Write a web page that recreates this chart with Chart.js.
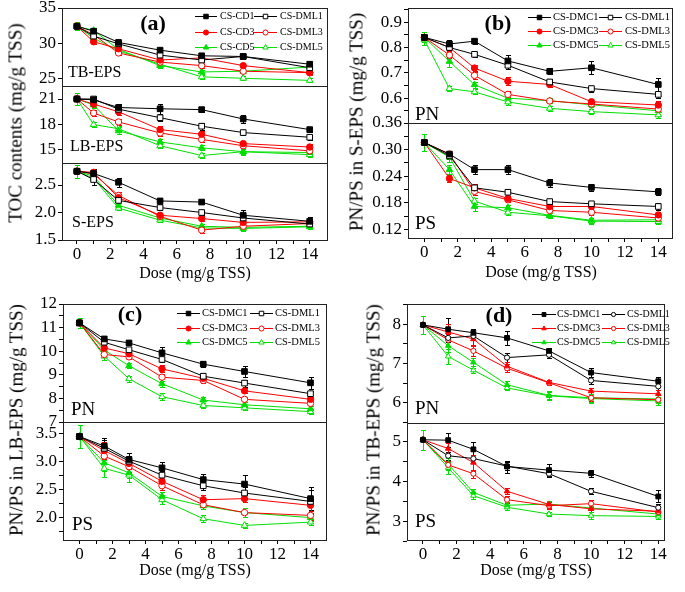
<!DOCTYPE html>
<html><head><meta charset="utf-8">
<script src="https://cdn.jsdelivr.net/npm/chart.js@4.4.0/dist/chart.umd.min.js"></script>
<style>
html,body{margin:0;padding:0;background:#fff;}
#root{position:relative;width:685px;height:592px;overflow:hidden;font-family:"Liberation Serif","Times New Roman",serif;}
.t{position:absolute;white-space:nowrap;color:#000;line-height:1;}
</style></head><body><div id="root"></div>
<script>
// ---------------- DATA ----------------
const a_dose = [0, 1, 2.5, 5, 7.5, 10, 14];
const bcd_dose = [0, 1.5, 3, 5, 7.5, 10, 14];
const x_ticks = [0, 2, 4, 6, 8, 10, 12, 14];
const x_tick_labels = ['0','2','4','6','8','10','12','14'];
const x_minor = [1, 3, 5, 7, 9, 11, 13];

const a_labels = ['CS-CD1','CS-DML1','CS-CD3','CS-DML3','CS-CD5','CS-DML5'];
const bcd_labels = ['CS-DMC1','CS-DML1','CS-DMC3','CS-DML3','CS-DMC5','CS-DML5'];

// (a) TB-EPS
const a_tb_cd1  = [32.4, 31.7, 30.1, 29.0, 28.2, 28.1, 27.0];
const a_tb_dml1 = [32.4, 31.0, 29.9, 28.3, 27.6, 28.1, 26.5];
const a_tb_cd3  = [32.4, 30.2, 29.2, 27.6, 27.9, 26.8, 25.8];
const a_tb_dml3 = [32.4, 31.2, 28.6, 27.3, 26.8, 26.0, 25.8];
const a_tb_cd5  = [32.4, 31.8, 29.1, 26.8, 25.9, 26.0, 26.6];
const a_tb_dml5 = [32.4, 30.7, 28.9, 27.0, 25.2, 25.0, 24.7];
const a_tb_cd1_err  = [0.6, 0.4, 0.3, 0.3, 0.3, 0.3, 0.3];
const a_tb_dml1_err = [0.6, 0.3, 0.3, 0.3, 0.3, 0.3, 0.3];
const a_tb_cd3_err  = [0.6, 0.3, 0.3, 0.3, 0.3, 0.3, 0.3];
const a_tb_dml3_err = [0.6, 0.3, 0.3, 0.3, 0.3, 0.3, 0.3];
const a_tb_cd5_err  = [0.6, 0.3, 0.3, 0.3, 0.3, 0.3, 0.3];
const a_tb_dml5_err = [0.6, 0.3, 0.3, 0.3, 0.3, 0.3, 0.3];
const a_tb_ticks = [25, 30, 35], a_tb_tick_labels = ['25','30','35'];
// (a) LB-EPS
const a_lb_cd1  = [21.0, 20.9, 20.0, 19.85, 19.75, 18.65, 17.4];
const a_lb_dml1 = [21.0, 21.0, 19.8, 18.8, 17.8, 17.05, 16.5];
const a_lb_cd3  = [21.0, 20.4, 19.5, 17.4, 16.85, 15.75, 15.35];
const a_lb_dml3 = [21.0, 19.35, 18.3, 17.0, 16.25, 15.5, 14.9];
const a_lb_cd5  = [21.0, 20.3, 17.25, 15.95, 15.25, 14.8, 14.7];
const a_lb_dml5 = [21.0, 18.0, 17.5, 15.5, 14.35, 14.8, 14.45];
const a_lb_cd1_err  = [0.7, 0.3, 0.4, 0.6, 0.3, 0.5, 0.3];
const a_lb_dml1_err = [0.7, 0.3, 0.3, 0.4, 0.4, 0.3, 0.3];
const a_lb_cd3_err  = [0.7, 0.3, 0.4, 0.4, 0.4, 0.3, 0.3];
const a_lb_dml3_err = [0.7, 0.3, 0.3, 0.3, 0.3, 0.3, 0.3];
const a_lb_cd5_err  = [0.7, 0.3, 0.4, 0.3, 0.3, 0.3, 0.3];
const a_lb_dml5_err = [0.7, 0.3, 0.3, 0.3, 0.3, 0.4, 0.3];
const a_lb_ticks = [15, 18, 21], a_lb_tick_labels = ['15','18','21'];
// (a) S-EPS
const a_s_cd1  = [2.75, 2.71, 2.55, 2.21, 2.19, 1.95, 1.84];
const a_s_dml1 = [2.75, 2.60, 2.22, 2.09, 2.00, 1.90, 1.79];
const a_s_cd3  = [2.75, 2.73, 2.27, 1.95, 1.89, 1.82, 1.83];
const a_s_dml3 = [2.75, 2.70, 2.31, 1.93, 1.68, 1.75, 1.80];
const a_s_cd5  = [2.75, 2.66, 2.13, 1.90, 1.75, 1.73, 1.75];
const a_s_dml5 = [2.75, 2.62, 2.08, 1.86, 1.72, 1.71, 1.74];
const a_s_cd1_err  = [0.12, 0.08, 0.08, 0.05, 0.04, 0.10, 0.07];
const a_s_dml1_err = [0.12, 0.10, 0.05, 0.04, 0.04, 0.04, 0.04];
const a_s_cd3_err  = [0.12, 0.05, 0.06, 0.04, 0.05, 0.04, 0.04];
const a_s_dml3_err = [0.12, 0.05, 0.06, 0.04, 0.05, 0.04, 0.04];
const a_s_cd5_err  = [0.12, 0.05, 0.04, 0.04, 0.05, 0.04, 0.04];
const a_s_dml5_err = [0.12, 0.05, 0.04, 0.04, 0.04, 0.04, 0.04];
const a_s_ticks = [1.5, 2.0, 2.5], a_s_tick_labels = ['1.5','2.0','2.5'];

// (b) PN in S-EPS
const b_pn_dmc1 = [0.84, 0.814, 0.825, 0.747, 0.706, 0.72, 0.654];
const b_pn_dml1 = [0.84, 0.80, 0.773, 0.73, 0.664, 0.638, 0.615];
const b_pn_dmc3 = [0.84, 0.80, 0.719, 0.667, 0.654, 0.586, 0.573];
const b_pn_dml3 = [0.84, 0.77, 0.69, 0.615, 0.589, 0.577, 0.557];
const b_pn_dmc5 = [0.84, 0.745, 0.653, 0.60, 0.59, 0.574, 0.55];
const b_pn_dml5 = [0.83, 0.638, 0.625, 0.585, 0.56, 0.547, 0.534];
const b_pn_dmc1_err = [0.02, 0.015, 0.01, 0.025, 0.012, 0.025, 0.025];
const b_pn_dml1_err = [0.02, 0.01, 0.01, 0.015, 0.01, 0.012, 0.015];
const b_pn_dmc3_err = [0.02, 0.015, 0.012, 0.015, 0.01, 0.01, 0.015];
const b_pn_dml3_err = [0.02, 0.01, 0.015, 0.012, 0.01, 0.01, 0.01];
const b_pn_dmc5_err = [0.02, 0.02, 0.012, 0.01, 0.01, 0.01, 0.012];
const b_pn_dml5_err = [0.02, 0.01, 0.01, 0.01, 0.01, 0.01, 0.012];
const b_pn_ticks = [0.6, 0.7, 0.8, 0.9], b_pn_tick_labels = ['0.6','0.7','0.8','0.9'];
const b_pn_minor = [0.55, 0.65, 0.75, 0.85, 0.95];
// (b) PS in S-EPS
const b_ps_dmc1 = [0.316, 0.29, 0.255, 0.255, 0.225, 0.215, 0.205];
const b_ps_dml1 = [0.316, 0.286, 0.214, 0.204, 0.183, 0.178, 0.172];
const b_ps_dmc3 = [0.316, 0.235, 0.214, 0.19, 0.172, 0.172, 0.153];
const b_ps_dml3 = [0.316, 0.29, 0.206, 0.187, 0.163, 0.159, 0.146];
const b_ps_dmc5 = [0.316, 0.255, 0.172, 0.169, 0.152, 0.141, 0.142];
const b_ps_dml5 = [0.316, 0.283, 0.184, 0.159, 0.151, 0.139, 0.138];
const b_ps_dmc1_err = [0.02, 0.008, 0.01, 0.01, 0.01, 0.008, 0.008];
const b_ps_dml1_err = [0.02, 0.008, 0.008, 0.008, 0.006, 0.006, 0.008];
const b_ps_dmc3_err = [0.02, 0.008, 0.008, 0.006, 0.006, 0.006, 0.006];
const b_ps_dml3_err = [0.02, 0.008, 0.008, 0.006, 0.006, 0.006, 0.006];
const b_ps_dmc5_err = [0.02, 0.01, 0.01, 0.006, 0.006, 0.006, 0.006];
const b_ps_dml5_err = [0.02, 0.01, 0.006, 0.006, 0.006, 0.006, 0.006];
const b_ps_ticks = [0.12, 0.18, 0.24, 0.30, 0.36], b_ps_tick_labels = ['0.12','0.18','0.24','0.30','0.36'];
const b_ps_minor = [0.15, 0.21, 0.27, 0.33];

// (c) PN in LB-EPS
const c_pn_dmc1 = [11.2, 10.52, 10.35, 9.93, 9.45, 9.14, 8.66];
const c_pn_dml1 = [11.2, 10.38, 10.06, 9.65, 8.94, 8.65, 8.2];
const c_pn_dmc3 = [11.2, 10.14, 9.89, 9.25, 8.85, 8.32, 7.96];
const c_pn_dml3 = [11.2, 9.86, 9.76, 8.9, 8.76, 7.96, 7.79];
const c_pn_dmc5 = [11.2, 10.05, 9.38, 8.62, 7.93, 7.73, 7.56];
const c_pn_dml5 = [11.2, 9.79, 8.83, 8.07, 7.7, 7.6, 7.44];
const c_pn_dmc1_err = [0.2, 0.1, 0.1, 0.25, 0.12, 0.25, 0.25];
const c_pn_dml1_err = [0.2, 0.1, 0.1, 0.1, 0.15, 0.15, 0.12];
const c_pn_dmc3_err = [0.2, 0.1, 0.12, 0.15, 0.12, 0.1, 0.12];
const c_pn_dml3_err = [0.2, 0.12, 0.1, 0.15, 0.1, 0.1, 0.1];
const c_pn_dmc5_err = [0.2, 0.15, 0.1, 0.12, 0.12, 0.1, 0.12];
const c_pn_dml5_err = [0.2, 0.15, 0.12, 0.15, 0.1, 0.08, 0.1];
const c_pn_ticks = [7, 8, 9, 10, 11, 12], c_pn_tick_labels = ['7','8','9','10','11','12'];
const c_pn_minor = [7.5, 8.5, 9.5, 10.5, 11.5];
// (c) PS in LB-EPS
const c_ps_dmc1 = [3.45, 3.28, 3.04, 2.89, 2.68, 2.60, 2.34];
const c_ps_dml1 = [3.45, 3.24, 3.01, 2.76, 2.57, 2.44, 2.29];
const c_ps_dmc3 = [3.45, 3.20, 2.97, 2.65, 2.32, 2.34, 2.22];
const c_ps_dml3 = [3.45, 3.10, 2.91, 2.57, 2.23, 2.09, 2.04];
const c_ps_dmc5 = [3.45, 2.98, 2.80, 2.38, 2.21, 2.09, 2.00];
const c_ps_dml5 = [3.45, 2.88, 2.76, 2.32, 1.98, 1.86, 1.92];
const c_ps_dmc1_err = [0.2, 0.15, 0.12, 0.1, 0.1, 0.17, 0.2];
const c_ps_dml1_err = [0.2, 0.15, 0.1, 0.08, 0.08, 0.1, 0.2];
const c_ps_dmc3_err = [0.2, 0.15, 0.1, 0.08, 0.08, 0.06, 0.1];
const c_ps_dml3_err = [0.2, 0.12, 0.1, 0.08, 0.08, 0.08, 0.08];
const c_ps_dmc5_err = [0.2, 0.15, 0.1, 0.08, 0.05, 0.08, 0.06];
const c_ps_dml5_err = [0.2, 0.15, 0.12, 0.08, 0.06, 0.04, 0.05];
const c_ps_ticks = [2.0, 2.5, 3.0, 3.5], c_ps_tick_labels = ['2.0','2.5','3.0','3.5'];
const c_ps_minor = [1.75, 2.25, 2.75, 3.25];

// (d) PN in TB-EPS
const d_pn_dmc1 = [7.98, 7.87, 7.78, 7.65, 7.32, 6.77, 6.55];
const d_pn_dml1 = [7.98, 7.65, 7.70, 7.15, 7.22, 6.57, 6.42];
const d_pn_dmc3 = [7.98, 7.80, 7.62, 6.93, 6.52, 6.30, 6.23];
const d_pn_dml3 = [7.98, 7.60, 7.32, 6.88, 6.51, 6.13, 6.08];
const d_pn_dmc5 = [7.98, 7.45, 7.03, 6.46, 6.19, 6.13, 6.10];
const d_pn_dml5 = [7.98, 7.18, 6.83, 6.38, 6.18, 6.11, 6.05];
const d_pn_dmc1_err = [0.22, 0.28, 0.1, 0.18, 0.08, 0.12, 0.12];
const d_pn_dml1_err = [0.22, 0.1, 0.1, 0.12, 0.08, 0.1, 0.1];
const d_pn_dmc3_err = [0.22, 0.2, 0.15, 0.1, 0.06, 0.08, 0.1];
const d_pn_dml3_err = [0.22, 0.15, 0.12, 0.1, 0.06, 0.08, 0.08];
const d_pn_dmc5_err = [0.22, 0.15, 0.1, 0.1, 0.1, 0.1, 0.1];
const d_pn_dml5_err = [0.22, 0.18, 0.06, 0.06, 0.1, 0.1, 0.1];
const d_pn_ticks = [6, 7, 8], d_pn_tick_labels = ['6','7','8'];
const d_pn_minor = [5.5, 6.5, 7.5, 8.5];
// (d) PS in TB-EPS
const d_ps_dmc1 = [5.05, 5.04, 4.81, 4.38, 4.29, 4.21, 3.63];
const d_ps_dml1 = [5.05, 4.65, 4.58, 4.39, 4.20, 3.76, 3.35];
const d_ps_dmc3 = [5.05, 4.83, 4.48, 3.76, 3.43, 3.32, 3.26];
const d_ps_dml3 = [5.05, 4.42, 4.20, 3.55, 3.40, 3.45, 3.24];
const d_ps_dmc5 = [5.05, 4.44, 3.73, 3.41, 3.44, 3.34, 3.19];
const d_ps_dml5 = [5.05, 4.35, 3.65, 3.36, 3.19, 3.15, 3.13];
const d_ps_dmc1_err = [0.25, 0.18, 0.18, 0.15, 0.15, 0.08, 0.15];
const d_ps_dml1_err = [0.25, 0.1, 0.1, 0.1, 0.08, 0.08, 0.1];
const d_ps_dmc3_err = [0.25, 0.15, 0.2, 0.08, 0.08, 0.08, 0.08];
const d_ps_dml3_err = [0.25, 0.1, 0.1, 0.08, 0.08, 0.08, 0.08];
const d_ps_dmc5_err = [0.25, 0.15, 0.08, 0.08, 0.08, 0.06, 0.06];
const d_ps_dml5_err = [0.25, 0.15, 0.08, 0.06, 0.06, 0.08, 0.06];
const d_ps_ticks = [3, 4, 5], d_ps_tick_labels = ['3','4','5'];
const d_ps_minor = [2.5, 3.5, 4.5];

// ---------------- STYLE / HELPERS ----------------
const FONT = '"Liberation Serif", "Times New Roman", serif';
const TICK = 17;
const BLACK = '#000000', RED = '#ff0000', GREEN = '#00e000';
const root = document.getElementById('root');

function text(str, x, y, size, o = {}) {
  const d = document.createElement('div');
  d.className = 't'; d.textContent = str;
  d.style.fontSize = size + 'px';
  if (o.bold) d.style.fontWeight = 'bold';
  d.style.left = x + 'px'; d.style.top = y + 'px';
  let tr = o.anchor === 'left' ? 'translate(0,-50%)' : 'translate(-50%,-50%)';
  if (o.rot) tr += ' rotate(-90deg)';
  d.style.transform = tr;
  root.appendChild(d);
}

const stylesABC = [
  {color: BLACK, ps: 'rect', fill: true, r: 4},
  {color: BLACK, ps: 'rect', fill: false, r: 4},
  {color: RED, ps: 'circle', fill: true, r: 3.2},
  {color: RED, ps: 'circle', fill: false, r: 3.2},
  {color: GREEN, ps: 'triangle', fill: true, r: 3.8},
  {color: GREEN, ps: 'triangle', fill: false, r: 3.8},
];
const stylesD = [
  {color: BLACK, ps: 'rect', fill: true, r: 3.4},
  {color: BLACK, ps: 'circle', fill: false, r: 2.6},
  {color: RED, ps: 'triangle', fill: true, r: 3.2},
  {color: RED, ps: 'circle', fill: false, r: 2.6},
  {color: GREEN, ps: 'triangle', fill: true, r: 3.2},
  {color: GREEN, ps: 'triangle', fill: false, r: 3.2},
];

function series(label, xs, ys, errs, st) {
  return {
    label, errors: errs, st,
    data: xs.map((x, i) => ({x, y: ys[i]})),
    borderColor: st.color, backgroundColor: st.fill ? st.color : '#ffffff',
    pointBackgroundColor: st.fill ? st.color : '#ffffff', pointBorderColor: st.color,
    pointStyle: st.ps, pointRadius: st.r, pointBorderWidth: 1,
    borderWidth: 1, tension: 0, clip: false, fill: false
  };
}

function mkTicks(major, labels, minor) {
  return [...major.map((v, i) => ({value: v, label: labels[i]})),
          ...(minor || []).map(v => ({value: v, label: ''}))].sort((a, b) => a.value - b.value);
}

function drawMarker(ctx, st, x, y, r) {
  ctx.fillStyle = st.fill ? st.color : '#ffffff';
  ctx.strokeStyle = st.color; ctx.lineWidth = 1;
  if (Chart.helpers && Chart.helpers.drawPoint) {
    Chart.helpers.drawPoint(ctx, {pointStyle: st.ps, radius: r, borderWidth: 1, rotation: 0}, x, y);
    return;
  }
  ctx.beginPath();
  if (st.ps === 'circle') ctx.arc(x, y, r, 0, Math.PI * 2);
  else if (st.ps === 'rect') { const s = r * Math.SQRT1_2; ctx.rect(x - s, y - s, 2 * s, 2 * s); }
  else { ctx.moveTo(x, y - r); ctx.lineTo(x + r * 0.866, y + r * 0.5); ctx.lineTo(x - r * 0.866, y + r * 0.5); ctx.closePath(); }
  ctx.fill(); ctx.stroke();
}

// error bars (under points), plot frame and custom legend (on top)
const decor = {
  id: 'decor',
  beforeDatasetsDraw(chart) {
    const ctx = chart.ctx, xs = chart.scales.x, ys = chart.scales.y;
    chart.data.datasets.forEach(ds => {
      if (!ds.errors) return;
      ctx.save(); ctx.strokeStyle = ds.borderColor; ctx.lineWidth = 1;
      ds.data.forEach((p, i) => {
        const e = ds.errors[i]; if (!e) return;
        const x = Math.round(xs.getPixelForValue(p.x)) + 0.5;
        const y1 = Math.round(ys.getPixelForValue(p.y + e)) + 0.5;
        const y2 = Math.round(ys.getPixelForValue(p.y - e)) + 0.5;
        ctx.beginPath();
        ctx.moveTo(x, y1); ctx.lineTo(x, y2);
        ctx.moveTo(x - 2.5, y1); ctx.lineTo(x + 2.5, y1);
        ctx.moveTo(x - 2.5, y2); ctx.lineTo(x + 2.5, y2);
        ctx.stroke();
      });
      ctx.restore();
    });
  },
  afterDraw(chart) {
    const a = chart.chartArea, ctx = chart.ctx;
    ctx.save();
    ctx.strokeStyle = '#222'; ctx.lineWidth = 1;
    ctx.strokeRect(Math.round(a.left) + 0.5, Math.round(a.top) + 0.5,
                   Math.round(a.right - a.left) - 1, Math.round(a.bottom - a.top));
    const o = chart.$legendCfg;
    if (o) {
      ctx.font = o.size + 'px ' + FONT;
      ctx.textBaseline = 'middle'; ctx.textAlign = 'left';
      o.items.forEach((it, k) => {
        const row = Math.floor(k / 2), col = k % 2;
        const y = Math.round(o.rows[row] - o.oy) + 0.5;
        const c = o.cols[col];
        const x1 = c[0] - o.ox, x2 = c[1] - o.ox, tx = c[2] - o.ox;
        ctx.strokeStyle = it.st.color; ctx.lineWidth = 1;
        ctx.beginPath(); ctx.moveTo(x1, y); ctx.lineTo(x2, y); ctx.stroke();
        drawMarker(ctx, it.st, (x1 + x2) / 2, y, it.st.r * 0.8);
        ctx.fillStyle = '#000';
        ctx.fillText(it.label, tx, y);
      });
    }
    ctx.restore();
  }
};

const PADT = 12, PADR = 8, YW = 50, XH = 34;
function makeSub(cfg) {
  const {L, T, R, B, bottom, xmin, xmax, ymin, ymax, yt, ytl, ymi, datasets, legend} = cfg;
  const w = (R - L) + YW + PADR;
  const h = (B - T) + PADT + (bottom ? XH : 6);
  const left = L - YW, top = T - PADT;
  const c = document.createElement('canvas');
  c.width = w; c.height = h;
  Object.assign(c.style, {position: 'absolute', left: left + 'px', top: top + 'px', width: w + 'px', height: h + 'px'});
  root.appendChild(c);
  if (legend) { legend.ox = left; legend.oy = top; }
  const tickFont = {family: FONT, size: TICK};
  const noPad = s => { s.paddingTop = 0; s.paddingBottom = 0; s.paddingLeft = 0; s.paddingRight = 0; };
  const ch = new Chart(c, {
    type: 'line',
    data: {datasets},
    options: {
      responsive: false, maintainAspectRatio: false, animation: false, devicePixelRatio: 1,
      layout: {padding: {left: 0, right: PADR, top: PADT, bottom: bottom ? 0 : 6}},
      plugins: {legend: {display: false}, tooltip: {enabled: false}},
      scales: {
        x: {
          type: 'linear', min: xmin, max: xmax, display: !!bottom,
          grid: {display: true, drawOnChartArea: false, drawTicks: true, tickLength: 4, color: '#000', tickColor: '#000'},
          border: {display: false},
          ticks: {font: tickFont, color: '#000', padding: 0, autoSkip: false, maxRotation: 0,
                  callback: (v, i, t) => t[i].label},
          afterBuildTicks: s => { s.ticks = mkTicks(x_ticks, x_tick_labels, x_minor); },
          afterFit: s => { s.height = bottom ? XH : 0; noPad(s); }
        },
        y: {
          type: 'linear', min: ymin, max: ymax,
          grid: {display: true, drawOnChartArea: false, drawTicks: true, tickLength: 4, color: '#000', tickColor: '#000'},
          border: {display: false},
          ticks: {font: tickFont, color: '#000', padding: 2, autoSkip: false,
                  callback: (v, i, t) => t[i].label},
          afterBuildTicks: s => { s.ticks = mkTicks(yt, ytl, ymi); },
          afterFit: s => { s.width = YW; noPad(s); }
        }
      }
    },
    plugins: [{
      id: 'legendCfg',
      beforeInit(chart) { chart.$legendCfg = legend || null; }
    }, decor]
  });
  return ch;
}

function sets(labels, styles, xs, arrs, errs) {
  return arrs.map((a, i) => series(labels[i], xs, a, errs[i], styles[i]));
}
function legendItems(labels, styles) { return labels.map((l, i) => ({label: l, st: styles[i]})); }

// ---------------- PANEL (a) ----------------
const aX = {L: 62, R: 328, xmin: -0.9, xmax: 15.1};
makeSub({...aX, T: 8, B: 86, ymin: 23.9, ymax: 35, yt: a_tb_ticks, ytl: a_tb_tick_labels,
  datasets: sets(a_labels, stylesABC, a_dose,
    [a_tb_cd1, a_tb_dml1, a_tb_cd3, a_tb_dml3, a_tb_cd5, a_tb_dml5],
    [a_tb_cd1_err, a_tb_dml1_err, a_tb_cd3_err, a_tb_dml3_err, a_tb_cd5_err, a_tb_dml5_err]),
  legend: {items: legendItems(a_labels, stylesABC), size: 10, rows: [16, 31.5, 47],
           cols: [[195, 217, 220], [254, 277, 280]]}});
makeSub({...aX, T: 86, B: 163, ymin: 13.47, ymax: 22.53, yt: a_lb_ticks, ytl: a_lb_tick_labels,
  datasets: sets(a_labels, stylesABC, a_dose,
    [a_lb_cd1, a_lb_dml1, a_lb_cd3, a_lb_dml3, a_lb_cd5, a_lb_dml5],
    [a_lb_cd1_err, a_lb_dml1_err, a_lb_cd3_err, a_lb_dml3_err, a_lb_cd5_err, a_lb_dml5_err])});
makeSub({...aX, T: 163, B: 240, bottom: true, ymin: 1.5, ymax: 2.9, yt: a_s_ticks, ytl: a_s_tick_labels,
  datasets: sets(a_labels, stylesABC, a_dose,
    [a_s_cd1, a_s_dml1, a_s_cd3, a_s_dml3, a_s_cd5, a_s_dml5],
    [a_s_cd1_err, a_s_dml1_err, a_s_cd3_err, a_s_dml3_err, a_s_cd5_err, a_s_dml5_err])});
text('TOC contents (mg/g TSS)', 15, 123, 19, {rot: true});
text('Dose (mg/g TSS)', 195, 273, 16);
text('(a)', 153, 23, 22, {bold: true});
text('TB-EPS', 68, 72, 16, {anchor: 'left'});
text('LB-EPS', 70, 146, 16, {anchor: 'left'});
text('S-EPS', 72, 222, 16, {anchor: 'left'});

// ---------------- PANEL (b) ----------------
const bX = {L: 408, R: 673, xmin: -0.98, xmax: 14.88};
makeSub({...bX, T: 8, B: 123, ymin: 0.502, ymax: 0.956, yt: b_pn_ticks, ytl: b_pn_tick_labels, ymi: b_pn_minor,
  datasets: sets(bcd_labels, stylesABC, bcd_dose,
    [b_pn_dmc1, b_pn_dml1, b_pn_dmc3, b_pn_dml3, b_pn_dmc5, b_pn_dml5],
    [b_pn_dmc1_err, b_pn_dml1_err, b_pn_dmc3_err, b_pn_dml3_err, b_pn_dmc5_err, b_pn_dml5_err]),
  legend: {items: legendItems(bcd_labels, stylesABC), size: 10.5, rows: [17.3, 31.3, 45.3],
           cols: [[528, 551, 553], [599, 622, 625]]}});
makeSub({...bX, T: 123, B: 238, bottom: true, ymin: 0.101, ymax: 0.36, yt: b_ps_ticks, ytl: b_ps_tick_labels, ymi: b_ps_minor,
  datasets: sets(bcd_labels, stylesABC, bcd_dose,
    [b_ps_dmc1, b_ps_dml1, b_ps_dmc3, b_ps_dml3, b_ps_dmc5, b_ps_dml5],
    [b_ps_dmc1_err, b_ps_dml1_err, b_ps_dmc3_err, b_ps_dml3_err, b_ps_dmc5_err, b_ps_dml5_err])});
text('PN/PS in S-EPS (mg/g TSS)', 356, 122, 19, {rot: true});
text('Dose (mg/g TSS)', 541, 272, 16);
text('(b)', 498, 23, 22, {bold: true});
text('PN', 415, 113, 19, {anchor: 'left'});
text('PS', 415, 222, 19, {anchor: 'left'});

// ---------------- PANEL (c) ----------------
const cX = {L: 63, R: 327, xmin: -1, xmax: 15};
makeSub({...cX, T: 304, B: 422, ymin: 7, ymax: 12, yt: c_pn_ticks, ytl: c_pn_tick_labels, ymi: c_pn_minor,
  datasets: sets(bcd_labels, stylesABC, bcd_dose,
    [c_pn_dmc1, c_pn_dml1, c_pn_dmc3, c_pn_dml3, c_pn_dmc5, c_pn_dml5],
    [c_pn_dmc1_err, c_pn_dml1_err, c_pn_dmc3_err, c_pn_dml3_err, c_pn_dmc5_err, c_pn_dml5_err]),
  legend: {items: legendItems(bcd_labels, stylesABC), size: 10.5, rows: [313.3, 327.7, 342.3],
           cols: [[177, 200, 202], [250, 273, 275]]}});
makeSub({...cX, T: 422, B: 540, bottom: true, ymin: 1.6, ymax: 3.71, yt: c_ps_ticks, ytl: c_ps_tick_labels, ymi: c_ps_minor,
  datasets: sets(bcd_labels, stylesABC, bcd_dose,
    [c_ps_dmc1, c_ps_dml1, c_ps_dmc3, c_ps_dml3, c_ps_dmc5, c_ps_dml5],
    [c_ps_dmc1_err, c_ps_dml1_err, c_ps_dmc3_err, c_ps_dml3_err, c_ps_dmc5_err, c_ps_dml5_err])});
text('PN/PS in LB-EPS (mg/g TSS)', 16, 420, 19, {rot: true});
text('Dose (mg/g TSS)', 195, 570, 16);
text('(c)', 130, 314, 22, {bold: true});
text('PN', 71, 408, 19, {anchor: 'left'});
text('PS', 72, 523, 19, {anchor: 'left'});

// ---------------- PANEL (d) ----------------
const dX = {L: 407, R: 665, xmin: -0.95, xmax: 14.4};
makeSub({...dX, T: 304, B: 423, ymin: 5.49, ymax: 8.51, yt: d_pn_ticks, ytl: d_pn_tick_labels, ymi: d_pn_minor,
  datasets: sets(bcd_labels, stylesD, bcd_dose,
    [d_pn_dmc1, d_pn_dml1, d_pn_dmc3, d_pn_dml3, d_pn_dmc5, d_pn_dml5],
    [d_pn_dmc1_err, d_pn_dml1_err, d_pn_dmc3_err, d_pn_dml3_err, d_pn_dmc5_err, d_pn_dml5_err]),
  legend: {items: legendItems(bcd_labels, stylesD), size: 10, rows: [314, 327.7, 341.7],
           cols: [[532, 556, 557], [602, 625, 627]]}});
makeSub({...dX, T: 423, B: 540, bottom: true, ymin: 2.54, ymax: 5.47, yt: d_ps_ticks, ytl: d_ps_tick_labels, ymi: d_ps_minor,
  datasets: sets(bcd_labels, stylesD, bcd_dose,
    [d_ps_dmc1, d_ps_dml1, d_ps_dmc3, d_ps_dml3, d_ps_dmc5, d_ps_dml5],
    [d_ps_dmc1_err, d_ps_dml1_err, d_ps_dmc3_err, d_ps_dml3_err, d_ps_dmc5_err, d_ps_dml5_err])});
text('PN/PS in TB-EPS (mg/g TSS)', 373, 420, 19, {rot: true});
text('Dose (mg/g TSS)', 536, 570, 16);
text('(d)', 499, 315, 22, {bold: true});
text('PN', 415, 407, 19, {anchor: 'left'});
text('PS', 415, 520, 19, {anchor: 'left'});
</script>
</body></html>
